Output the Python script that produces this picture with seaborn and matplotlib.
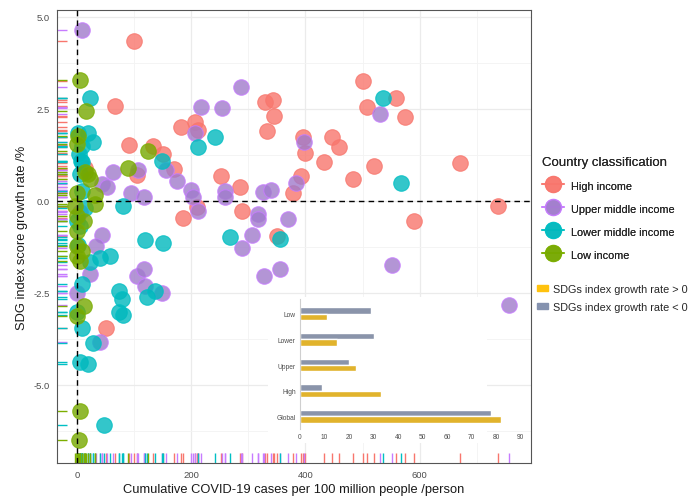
import numpy as np
import pandas as pd
import matplotlib
matplotlib.use("Agg")
import matplotlib.pyplot as plt
import seaborn as sns
from matplotlib.lines import Line2D
from matplotlib.patches import Patch, Rectangle
from matplotlib.ticker import MultipleLocator

sns.set_theme(style="whitegrid")
plt.rcParams['font.family'] = ['Liberation Sans', 'DejaVu Sans']

# ---- data ----
classes = ["High income", "Upper middle income", "Lower middle income", "Low income"]

high_x = [100, 66.5, 91.5, 133.5, 150, 104.5, 170, 183, 206.5, 212, 253, 285, 329, 342.5, 345, 333,
          395, 399, 391.5, 377.5, 433, 446, 458.5, 483.5, 500, 507, 520, 185, 209.5, 289, 350.5,
          558, 575, 670, 737, 590, 14.5, 51]
high_y = [4.34, 2.56, 1.52, 1.49, 1.26, 0.69, 0.86, 2.01, 2.14, 1.92, 0.67, 0.36, 2.67, 2.74, 2.29, 1.88,
          1.73, 1.29, 0.67, 0.22, 1.05, 1.74, 1.47, 0.58, 3.24, 2.54, 0.95, -0.48, -0.18, -0.29, -0.96,
          2.80, 2.26, 1.01, -0.14, -0.55, 0.90, -3.47]

upper_x = [8, 62.5, 43, 53, 94.5, 117, 107, 156, 175.5, 200.5, 203.5, 206.5, 217, 254, 287, 260, 259,
           325, 339, 383, 397, 317, 317, 370, 212, 531, 306, 289, 327, 355, 148, 551, 757, 43.5, 34,
           23, 105, 118, 119.5, 0, 5, 40]
upper_y = [4.63, 0.77, 0.45, 0.36, 0.22, 0.10, 0.84, 0.84, 0.52, 0.29, 0.10, 1.83, 2.55, 2.51, 3.09, 0.25,
           0.09, 0.24, 0.29, 0.49, 1.60, -0.37, -0.50, -0.50, -0.29, 2.35, -0.94, -1.29, -2.04, -1.86,
           -2.52, -1.75, -2.85, -0.94, -1.24, -2.00, -2.06, -1.86, -2.33, -2.50, -0.31, -3.85]

lower_x = [23, 20, 28.5, 148, 212, 241.5, 80, 536, 568, 268, 355, 150, 118.5, 41, 58, 23, 9, 73, 79,
           122.5, 137, 6, 0, 73, 80.5, 0, 9, 28, 4.5, 19, 46.5, 1, 9, 7, 6, 9, 14.5, 9, 2, 3]
lower_y = [2.79, 1.83, 1.58, 1.08, 1.45, 1.72, -0.14, 2.79, 0.49, -1.00, -1.05, -1.14, -1.07, -1.55,
           -1.50, -1.68, -2.27, -2.45, -2.68, -2.63, -2.45, -0.68, -0.55, -3.02, -3.11, -3.04, -3.47,
           -3.88, -4.38, -4.44, -6.10, 1.85, 1.49, 1.08, 0.72, 0.27, -0.19, 1.04, -1.20, 1.26]

low_x = [4.5, 16, 1, 0, 124, 90, 31.5, 14, 23, 20, 0, 32, -3, 0, 11.5, 0, 0, 9, 0, 5, 11.5, 0, 6, 3]
low_y = [3.27, 2.44, 1.76, 1.54, 1.35, 0.90, 0.15, 0.77, 0.58, 0.72, 0.22, -0.08, -0.14, -0.41, -0.55,
         -0.82, -1.23, -1.36, -1.50, -1.64, -2.86, -3.13, -5.71, -6.50]

# inset bars: number of countries by growth-rate sign
groups = ["Low", "Lower", "Upper", "High", "Global"]
neg_counts = [29, 30, 20, 9, 78]
pos_counts = [11, 15, 23, 33, 82]

# ---- table ----
df = pd.concat([
    pd.DataFrame({"cases": high_x, "sdg": high_y, "cls": classes[0]}),
    pd.DataFrame({"cases": upper_x, "sdg": upper_y, "cls": classes[1]}),
    pd.DataFrame({"cases": lower_x, "sdg": lower_y, "cls": classes[2]}),
    pd.DataFrame({"cases": low_x, "sdg": low_y, "cls": classes[3]}),
], ignore_index=True)

bars = pd.concat([
    pd.DataFrame({"group": groups, "n": neg_counts, "sign": "SDGs index growth rate < 0"}),
    pd.DataFrame({"group": groups, "n": pos_counts, "sign": "SDGs index growth rate > 0"}),
], ignore_index=True)

rug_pal = {"High income": "#F8766D", "Upper middle income": "#C77CFF",
           "Lower middle income": "#00BFC4", "Low income": "#7CAE00"}
fill_pal = {"High income": "#F8766D", "Upper middle income": "#A07BCB",
            "Lower middle income": "#00B8BD", "Low income": "#76A800"}
bar_pal = {"SDGs index growth rate < 0": "#8592AF", "SDGs index growth rate > 0": "#FFC20E"}

W, H = 690, 502
fig = plt.figure(figsize=(6.9, 5.02), dpi=100)
ax = fig.add_axes([57 / W, 1 - 464 / H, 474 / W, 453 / H])
ax.set_facecolor("white")

# grid like theme_bw
ax.xaxis.set_major_locator(MultipleLocator(200))
ax.xaxis.set_minor_locator(MultipleLocator(100))
ax.yaxis.set_major_locator(MultipleLocator(2.5))
ax.yaxis.set_minor_locator(MultipleLocator(1.25))
ax.grid(which="major", color="#EBEBEB", lw=0.9)
ax.grid(which="minor", color="#F3F3F3", lw=0.6)
ax.set_axisbelow(True)

# rugs
sns.rugplot(data=df, x="cases", hue="cls", hue_order=classes, palette=rug_pal,
            height=0.022, lw=1.4, legend=False, ax=ax)
sns.rugplot(data=df, y="sdg", hue="cls", hue_order=classes, palette=rug_pal,
            height=0.022, lw=1.4, legend=False, ax=ax)

# points
for c in classes:
    sub = df[df["cls"] == c]
    sns.scatterplot(data=sub, x="cases", y="sdg", color=fill_pal[c], edgecolor=rug_pal[c],
                    s=125, alpha=0.8, linewidth=0.8, legend=False, ax=ax, zorder=3)

ax.axhline(0, color="black", ls=(0, (4, 3)), lw=1.0, zorder=4)
ax.axvline(0, color="black", ls=(0, (4, 3)), lw=1.0, zorder=4)

ax.set_xlim(-35, 795)
ax.set_ylim(-7.13, 5.18)
ax.set_xticks([0, 200, 400, 600])
ax.set_yticks([-5, -2.5, 0, 2.5, 5])
ax.set_yticklabels(["-5.0", "-2.5", "0.0", "2.5", "5.0"])
ax.tick_params(which="major", length=3, width=0.7, color="#333333", labelsize=6.8,
               labelcolor="#4D4D4D", pad=2)
ax.tick_params(which="minor", length=0)
for s in ax.spines.values():
    s.set_color("#555555")
    s.set_linewidth(0.8)
ax.set_xlabel("Cumulative COVID-19 cases per 100 million people /person", fontsize=9.3,
              color="#1A1A1A", labelpad=3)
ax.set_ylabel("SDG index score growth rate /%", fontsize=9.3, color="#1A1A1A", labelpad=4)

# inset background
rect = Rectangle((268 / W, 1 - 444 / H), (487 - 268) / W, (444 - 298) / H,
                 transform=fig.transFigure, facecolor="white", edgecolor="none", zorder=1)
fig.add_artist(rect)

ins = fig.add_axes([300 / W, 1 - 430 / H, 228 / W, 130 / H])
ins.set_zorder(2)
ins.set_facecolor("none")
sns.barplot(data=bars, x="n", y="group", hue="sign", order=groups,
            hue_order=["SDGs index growth rate < 0", "SDGs index growth rate > 0"],
            palette=bar_pal, width=0.5, orient="h", legend=False, ax=ins)
ins.set_xlim(0, 93)
ins.set_ylim(4.5, -0.58)
ins.set_xticks(range(0, 91, 10))
ins.set_xlabel("")
ins.set_ylabel("")
ins.grid(False)
ins.tick_params(length=0, labelsize=4.8, labelcolor="#4D4D4D", pad=3)
for k, s in ins.spines.items():
    s.set_visible(k == "left")
ins.spines["left"].set_color("#CFCFCF")
ins.spines["left"].set_linewidth(0.8)

# legends
h1 = [Line2D([], [], marker="o", color=rug_pal[c], lw=1.4, markersize=11.5,
             markerfacecolor=fill_pal[c], markeredgecolor=rug_pal[c], alpha=0.8) for c in classes]
leg1 = fig.legend(h1, classes, title="Country classification", loc="upper left",
                  bbox_to_anchor=(542 / W, 1 - 157 / H), frameon=False, fontsize=7.8,
                  title_fontsize=9.5, handlelength=2.0, handleheight=1.2, labelspacing=1.08,
                  handletextpad=0.68, borderpad=0, borderaxespad=0, alignment="left")
fig.add_artist(leg1)
h2 = [Patch(color=bar_pal["SDGs index growth rate > 0"]), Patch(color=bar_pal["SDGs index growth rate < 0"])]
fig.legend(h2, ["SDGs index growth rate > 0", "SDGs index growth rate < 0"], loc="upper left",
           bbox_to_anchor=(537 / W, 1 - 285 / H), frameon=False, fontsize=7.8,
           handlelength=1.0, handleheight=0.4, labelspacing=0.71, handletextpad=0.5,
           borderpad=0, borderaxespad=0)

fig.savefig("out.png", dpi=100)
